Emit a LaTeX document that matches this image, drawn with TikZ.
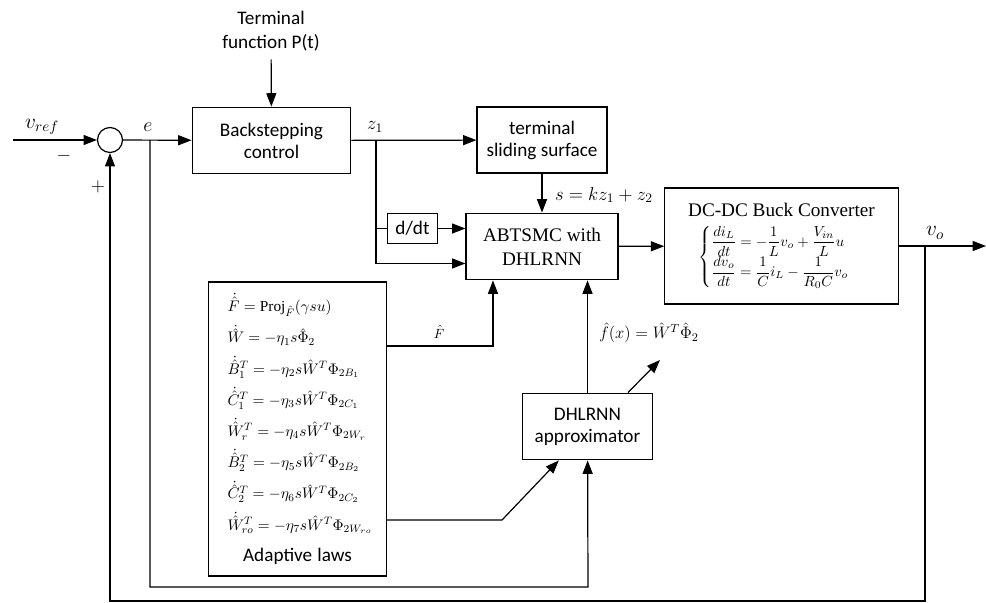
\RequirePackage{fix-cm}
\documentclass[tikz,border=0pt]{standalone}
\usepackage{amsmath}
\usepackage{fontspec}
\setmainfont{Liberation Serif}
\setsansfont{Carlito}
\usetikzlibrary{arrows.meta,calc}

\begin{document}
\begin{tikzpicture}[x=0.75pt, y=-0.75pt, line width=0.9pt, >={Triangle[length=10pt,width=7.5pt]},
  block/.style={draw, line width=0.9pt, inner sep=2pt, align=center},
  sanslabel/.style={font=\sffamily\fontsize{14.4}{16.5}\selectfont},
  seriflabel/.style={font=\rmfamily\fontsize{14.4}{18}\selectfont}]
\useasboundingbox (0,0) rectangle (986,603);

% blocks
\node (sum) at (110,140) [draw, circle, minimum size=18.75pt, inner sep=0pt] {};
\node (backstep) at (271.5,140.5) [block, sanslabel, minimum width=119pt, minimum height=50pt] {Backstepping\\control};
\node (tfun) at (271,31) [align=center, inner sep=6pt, font=\sffamily\fontsize{14.4}{17.5}\selectfont] {Terminal\\function P(t)};
\node (tss) at (542,140) [block, sanslabel, minimum width=97.5pt, minimum height=49.5pt] {terminal\\sliding surface};
\node (ddt) at (412.5,228.5) [block, sanslabel, minimum width=38pt, minimum height=22pt, inner sep=1pt] {d/dt};
\node (abtsmc) at (542,246.5) [block, seriflabel, minimum width=114pt, minimum height=50pt] {ABTSMC with\\DHLRNN};
\node (buck) at (781.5,246) [block, minimum width=175pt, minimum height=87pt, inner ysep=1pt]
  {{\fontsize{14.4}{18}\selectfont DC-DC Buck Converter}\\[6pt]
   {\fontsize{11}{13}\selectfont $\begin{cases}
     \dfrac{di_L}{dt} = -\dfrac{1}{L}v_o + \dfrac{V_{in}}{L}u\\[3pt]
     \dfrac{dv_o}{dt} = \dfrac{1}{C}i_L - \dfrac{1}{R_0C}v_o
   \end{cases}$}};
\node (laws) at (297.5,429) [draw, text width=105pt, inner xsep=14pt, inner ysep=0pt, minimum height=220.5pt, align=left, font=\fontsize{11.5}{23.4}\selectfont]
  {\mbox{$\dot{\hat{F}} = \mathrm{Proj}_{\hat{F}}(\gamma s u)$}\\
   \mbox{$\dot{\hat{W}} = -\eta_1 s\hat{\Phi}_2$}\\
   \mbox{$\dot{\hat{B}}_1^T = -\eta_2 s\hat{W}^T\Phi_{2B_1}$}\\
   \mbox{$\dot{\hat{C}}_1^T = -\eta_3 s\hat{W}^T\Phi_{2C_1}$}\\
   \mbox{$\dot{\hat{W}}_r^T = -\eta_4 s\hat{W}^T\Phi_{2W_r}$}\\
   \mbox{$\dot{\hat{B}}_2^T = -\eta_5 s\hat{W}^T\Phi_{2B_2}$}\\
   \mbox{$\dot{\hat{C}}_2^T = -\eta_6 s\hat{W}^T\Phi_{2C_2}$}\\
   \mbox{$\dot{\hat{W}}_{ro}^T = -\eta_7 s\hat{W}^T\Phi_{2W_{ro}}$}\\
   \makebox[105pt]{\sffamily\fontsize{14.4}{23.4}\selectfont Adaptive laws}};
\node (approx) at (587.5,426.5) [block, sanslabel, minimum width=97pt, minimum height=50pt] {DHLRNN\\approximator};

% signal labels
\node (vreflbl) at (42,127) {\fontsize{16}{16}\selectfont $v_{ref}$};
\node (minus) at (64,156) {\fontsize{14}{14}\selectfont $-$};
\node (plus) at (98,187) {\fontsize{14}{14}\selectfont $+$};
\node (elbl) at (148,127) {\fontsize{15}{15}\selectfont $e$};
\node (zlbl) at (375,127) {\fontsize{14}{14}\selectfont $z_1$};
\node (slbl) at (550,195) [anchor=west] {\fontsize{14}{14}\selectfont $s = kz_1 + z_2$};
\node (Flbl) at (439,332) {\fontsize{10}{10}\selectfont $\hat{F}$};
\node (flbl) at (594,333) [anchor=west] {\fontsize{12.5}{12.5}\selectfont $\hat{f}(x) = \hat{W}^T\hat{\Phi}_2$};
\node (volbl) at (935,233) {\fontsize{16}{16}\selectfont $v_o$};

% branch points
\coordinate (vin) at (13,140);
\coordinate (eb) at (150,140);
\coordinate (ebot) at (588,587);
\coordinate (zb) at (376,140);
\coordinate (vob) at (925,246);
\coordinate (vout) at (986,246);
\coordinate (fbot) at (925,601);
\coordinate (fkink) at (502,520);
\coordinate (fout) at (660,360);

% connectors
\draw[->] (vin) -- (sum);
\draw[->] (sum) -- (backstep);
\draw[->] (tfun) -- (backstep);
\draw[->] (backstep) -- (tss);
\draw[->] (tss) -- (abtsmc);
\draw (zb) |- (ddt);
\draw[->] (ddt) -- (ddt -| abtsmc.west);
\draw[->] (zb) |- ($(abtsmc.south west)!0.25!(abtsmc.north west)$);
\draw[->] (abtsmc) -- (buck);
\draw[->] (buck) -- (vout);
\draw[->] (vob) -- (fbot) -| (sum);
\draw[->] (eb) |- (ebot) -- (approx);
\draw[->] (laws.east |- 0,346) -| ($(abtsmc.south west)!0.18!(abtsmc.south east)$);
\draw[->] (laws.east |- 0,520) -- (fkink) -- ($(approx.south west)!0.28!(approx.south east)$);
\draw[->] (approx) -- (approx |- abtsmc.south);
\draw[->] ($(approx.north west)!0.81!(approx.north east)$) -- (fout);
\end{tikzpicture}
\end{document}
